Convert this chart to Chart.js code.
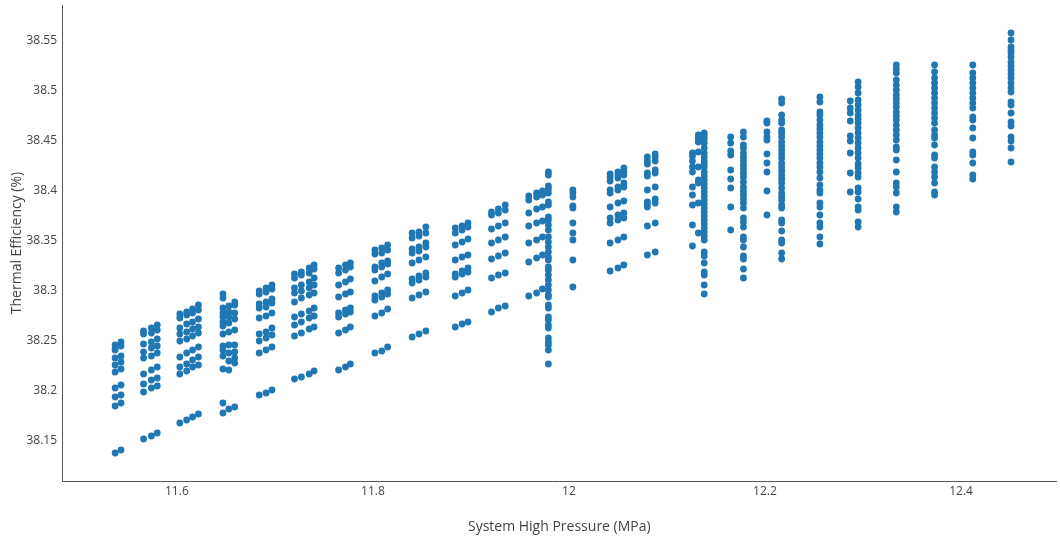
<!DOCTYPE html>
<html>
<head>
<meta charset="utf-8">
<title>Thermal Efficiency vs System High Pressure</title>
<script src="https://cdn.jsdelivr.net/npm/chart.js@4/dist/chart.umd.min.js"></script>
<style>
  html, body { margin: 0; padding: 0; background: #ffffff; }
  #wrap { width: 1060px; height: 541px; position: relative; }
</style>
</head>
<body>
<div id="wrap"><canvas id="chart" width="1060" height="541"></canvas></div>
<script>
// System high pressure (MPa) of each measured column of runs
const pressures = [
  11.537, 11.543,
  11.566, 11.574, 11.580,
  11.603, 11.610, 11.616, 11.622,
  11.647, 11.653, 11.659,
  11.684, 11.691, 11.697,
  11.720, 11.727, 11.735, 11.740,
  11.765, 11.772, 11.777,
  11.802, 11.809, 11.815,
  11.840, 11.847, 11.854,
  11.884, 11.891, 11.897,
  11.921, 11.928, 11.935,
  11.959, 11.967, 11.973, 11.979,
  12.004,
  12.042, 12.050, 12.056,
  12.080, 12.088,
  12.126, 12.132, 12.138,
  12.165, 12.178,
  12.202, 12.217, 12.256,
  12.287, 12.295,
  12.334, 12.373, 12.412, 12.451
];

// Thermal efficiency (%) recorded at each pressure above, same order
const efficiencies = [
  [38.246, 38.243, 38.241, 38.233, 38.226, 38.219, 38.203, 38.194, 38.185, 38.138],
  [38.249, 38.245, 38.235, 38.229, 38.222, 38.206, 38.196, 38.188, 38.141],
  [38.260, 38.257, 38.247, 38.239, 38.233, 38.217, 38.207, 38.199, 38.152],
  [38.263, 38.258, 38.249, 38.243, 38.235, 38.221, 38.211, 38.203, 38.155],
  [38.266, 38.261, 38.252, 38.245, 38.238, 38.224, 38.213, 38.205, 38.158],
  [38.277, 38.273, 38.263, 38.257, 38.250, 38.234, 38.224, 38.217, 38.168],
  [38.279, 38.276, 38.267, 38.259, 38.252, 38.238, 38.227, 38.220, 38.171],
  [38.282, 38.278, 38.269, 38.262, 38.255, 38.241, 38.231, 38.224, 38.174],
  [38.286, 38.281, 38.272, 38.264, 38.258, 38.244, 38.234, 38.226, 38.177],
  [38.297, 38.293, 38.283, 38.278, 38.274, 38.269, 38.265, 38.257, 38.245, 38.241, 38.235, 38.222, 38.188, 38.178],
  [38.285, 38.279, 38.274, 38.268, 38.259, 38.246, 38.238, 38.230, 38.221, 38.182],
  [38.289, 38.286, 38.278, 38.272, 38.261, 38.246, 38.239, 38.233, 38.228, 38.184],
  [38.300, 38.297, 38.287, 38.283, 38.273, 38.257, 38.250, 38.238, 38.196],
  [38.303, 38.299, 38.289, 38.284, 38.275, 38.259, 38.253, 38.241, 38.198],
  [38.306, 38.302, 38.292, 38.288, 38.278, 38.263, 38.256, 38.244, 38.201],
  [38.317, 38.313, 38.303, 38.298, 38.289, 38.274, 38.266, 38.255, 38.212],
  [38.319, 38.316, 38.306, 38.300, 38.293, 38.277, 38.269, 38.258, 38.214],
  [38.323, 38.318, 38.309, 38.303, 38.296, 38.280, 38.273, 38.262, 38.217],
  [38.326, 38.322, 38.313, 38.306, 38.298, 38.283, 38.275, 38.264, 38.220],
  [38.323, 38.318, 38.306, 38.294, 38.278, 38.274, 38.258, 38.221],
  [38.326, 38.321, 38.309, 38.297, 38.281, 38.277, 38.261, 38.224],
  [38.328, 38.324, 38.312, 38.299, 38.283, 38.279, 38.264, 38.227],
  [38.341, 38.337, 38.324, 38.321, 38.310, 38.295, 38.291, 38.275, 38.238],
  [38.343, 38.338, 38.328, 38.324, 38.314, 38.298, 38.294, 38.278, 38.240],
  [38.346, 38.341, 38.330, 38.327, 38.317, 38.301, 38.297, 38.282, 38.244],
  [38.358, 38.353, 38.342, 38.338, 38.328, 38.312, 38.308, 38.293, 38.254],
  [38.359, 38.355, 38.344, 38.340, 38.331, 38.315, 38.311, 38.296, 38.257],
  [38.364, 38.358, 38.348, 38.344, 38.334, 38.318, 38.314, 38.299, 38.260],
  [38.363, 38.358, 38.346, 38.331, 38.317, 38.314, 38.295, 38.264],
  [38.365, 38.361, 38.349, 38.334, 38.320, 38.317, 38.298, 38.267],
  [38.368, 38.364, 38.352, 38.336, 38.323, 38.319, 38.301, 38.269],
  [38.379, 38.376, 38.362, 38.348, 38.332, 38.313, 38.279],
  [38.382, 38.378, 38.365, 38.351, 38.335, 38.316, 38.283],
  [38.386, 38.381, 38.368, 38.354, 38.338, 38.318, 38.285],
  [38.395, 38.391, 38.378, 38.365, 38.348, 38.329, 38.295],
  [38.398, 38.394, 38.382, 38.368, 38.351, 38.333, 38.298],
  [38.400, 38.396, 38.384, 38.370, 38.354, 38.336, 38.302],
  [38.419, 38.416, 38.405, 38.402, 38.398, 38.389, 38.386, 38.374, 38.371, 38.366, 38.361, 38.354,
   38.349, 38.344, 38.339, 38.334, 38.331, 38.324, 38.321, 38.316, 38.311, 38.306, 38.301, 38.296,
   38.294, 38.286, 38.283, 38.274, 38.271, 38.266, 38.263, 38.253, 38.249, 38.246, 38.241, 38.227],
  [38.401, 38.398, 38.394, 38.385, 38.383, 38.368, 38.358, 38.351, 38.331, 38.304],
  [38.417, 38.414, 38.410, 38.401, 38.398, 38.384, 38.373, 38.368, 38.348, 38.320],
  [38.419, 38.416, 38.413, 38.404, 38.401, 38.388, 38.376, 38.371, 38.351, 38.323],
  [38.423, 38.419, 38.416, 38.408, 38.404, 38.390, 38.378, 38.373, 38.354, 38.326],
  [38.434, 38.430, 38.427, 38.418, 38.415, 38.401, 38.389, 38.387, 38.384, 38.365, 38.336],
  [38.437, 38.434, 38.430, 38.421, 38.418, 38.404, 38.392, 38.388, 38.368, 38.339],
  [38.438, 38.435, 38.430, 38.424, 38.419, 38.404, 38.396, 38.386, 38.366, 38.345],
  [38.456, 38.453, 38.449, 38.439, 38.424, 38.411, 38.408, 38.388, 38.358],
  [38.458, 38.455, 38.452, 38.448, 38.443, 38.438, 38.434, 38.430, 38.427, 38.424, 38.419, 38.415,
   38.411, 38.407, 38.403, 38.399, 38.395, 38.391, 38.387, 38.383, 38.379, 38.375, 38.371, 38.367,
   38.363, 38.359, 38.355, 38.351, 38.339, 38.335, 38.328, 38.319, 38.316, 38.306, 38.297],
  [38.454, 38.448, 38.440, 38.436, 38.421, 38.412, 38.403, 38.384, 38.361],
  [38.459, 38.454, 38.446, 38.443, 38.438, 38.434, 38.430, 38.426, 38.422, 38.418, 38.414, 38.409,
   38.404, 38.400, 38.396, 38.392, 38.388, 38.383, 38.373, 38.369, 38.364, 38.354, 38.351, 38.344,
   38.335, 38.332, 38.322, 38.313],
  [38.470, 38.468, 38.459, 38.454, 38.451, 38.437, 38.428, 38.419, 38.400, 38.376],
  [38.492, 38.488, 38.476, 38.471, 38.468, 38.461, 38.458, 38.454, 38.449, 38.445, 38.441, 38.437,
   38.433, 38.428, 38.424, 38.420, 38.416, 38.412, 38.408, 38.403, 38.398, 38.394, 38.391, 38.386,
   38.383, 38.371, 38.368, 38.360, 38.351, 38.348, 38.338, 38.332],
  [38.494, 38.489, 38.479, 38.476, 38.471, 38.466, 38.462, 38.458, 38.454, 38.449, 38.445, 38.441,
   38.437, 38.433, 38.428, 38.424, 38.419, 38.413, 38.406, 38.401, 38.398, 38.388, 38.384, 38.376,
   38.368, 38.364, 38.354, 38.347],
  [38.490, 38.483, 38.478, 38.470, 38.455, 38.450, 38.438, 38.418, 38.399],
  [38.509, 38.504, 38.498, 38.491, 38.486, 38.481, 38.476, 38.472, 38.468, 38.463, 38.458, 38.453,
   38.448, 38.443, 38.438, 38.433, 38.427, 38.423, 38.418, 38.414, 38.403, 38.399, 38.392, 38.384,
   38.381, 38.369, 38.364],
  [38.526, 38.522, 38.518, 38.511, 38.506, 38.501, 38.496, 38.492, 38.488, 38.484, 38.479, 38.475,
   38.471, 38.466, 38.461, 38.456, 38.451, 38.444, 38.441, 38.431, 38.419, 38.408, 38.404, 38.398,
   38.384, 38.379],
  [38.526, 38.519, 38.513, 38.508, 38.503, 38.498, 38.493, 38.488, 38.483, 38.478, 38.473, 38.468,
   38.461, 38.456, 38.453, 38.446, 38.436, 38.433, 38.424, 38.419, 38.414, 38.408, 38.399, 38.396],
  [38.526, 38.518, 38.513, 38.508, 38.503, 38.498, 38.493, 38.488, 38.483, 38.474, 38.471, 38.463,
   38.453, 38.439, 38.436, 38.428, 38.416, 38.412],
  [38.558, 38.551, 38.544, 38.541, 38.538, 38.534, 38.529, 38.525, 38.521, 38.517, 38.513, 38.508,
   38.503, 38.499, 38.489, 38.486, 38.478, 38.469, 38.465, 38.454, 38.450, 38.443, 38.429]
];

// Axis tick values and their printed labels
const xTickValues = [11.6, 11.8, 12.0, 12.2, 12.4];
const xTickLabels = ['11.6', '11.8', '12', '12.2', '12.4'];
const yTickValues = [38.15, 38.2, 38.25, 38.3, 38.35, 38.4, 38.45, 38.5, 38.55];
const yTickLabels = ['38.15', '38.2', '38.25', '38.3', '38.35', '38.4', '38.45', '38.5', '38.55'];

// Flatten the columns into scatter points
const points = [];
pressures.forEach((p, i) => {
  efficiencies[i].forEach(e => points.push({ x: p, y: e }));
});

const FONT = "'Open Sans', 'Noto Sans', sans-serif";
const TEXT = '#444444';
const AXIS_LINE = '#555555';

function labelFor(values, labels, v) {
  const i = values.findIndex(t => Math.abs(t - v) < 1e-9);
  return i >= 0 ? labels[i] : '';
}

new Chart(document.getElementById('chart'), {
  type: 'scatter',
  data: {
    datasets: [{
      data: points,
      backgroundColor: '#1f77b4',
      borderWidth: 0,
      pointRadius: 3.4,
      pointHoverRadius: 3.4
    }]
  },
  options: {
    responsive: false,
    animation: false,
    layout: { padding: { top: 5, right: 2, left: 0, bottom: 0 } },
    plugins: {
      legend: { display: false },
      tooltip: { enabled: false }
    },
    scales: {
      x: {
        type: 'linear',
        min: 11.4828,
        max: 12.4975,
        grid: { display: false, drawTicks: false },
        border: { display: true, color: AXIS_LINE, width: 1 },
        afterBuildTicks: s => { s.ticks = xTickValues.map(v => ({ value: v })); },
        afterFit: s => { s.height = 60; s.paddingLeft = 0; s.paddingRight = 0; },
        ticks: {
          padding: 3,
          color: TEXT,
          font: { family: FONT, size: 12 },
          maxRotation: 0,
          autoSkip: false,
          callback: v => labelFor(xTickValues, xTickLabels, v)
        },
        title: {
          display: true,
          text: 'System High Pressure (MPa)',
          color: TEXT,
          font: { family: FONT, size: 14 },
          padding: { top: 0, bottom: 6 }
        }
      },
      y: {
        type: 'linear',
        min: 38.110,
        max: 38.586,
        grid: { display: false, drawTicks: false },
        border: { display: true, color: AXIS_LINE, width: 1 },
        afterBuildTicks: s => { s.ticks = yTickValues.map(v => ({ value: v })); },
        afterFit: s => { s.width = 62; s.paddingTop = 0; s.paddingBottom = 0; },
        ticks: {
          padding: 5,
          color: TEXT,
          font: { family: FONT, size: 12 },
          autoSkip: false,
          callback: v => labelFor(yTickValues, yTickLabels, v)
        },
        title: {
          display: true,
          text: 'Thermal Efficiency (%)',
          color: TEXT,
          font: { family: FONT, size: 14 },
          padding: { top: 9, bottom: 0 }
        }
      }
    }
  }
});
</script>
</body>
</html>
